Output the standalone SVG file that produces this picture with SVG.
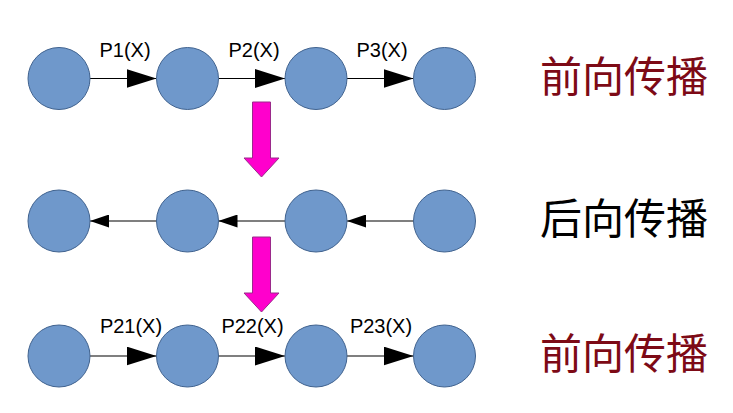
<svg xmlns="http://www.w3.org/2000/svg" width="733" height="413" viewBox="0 0 733 413">
<style>
.n{fill:#6f98cb;stroke:#41638f;stroke-width:1}
.e{stroke:#000;stroke-width:1.2;fill:none}
.lbl{font-family:"Liberation Sans",Arial,sans-serif;font-size:20px;fill:#000;text-anchor:middle}
.cjk{font-family:"Noto Sans CJK SC","Noto Sans",sans-serif;font-size:42px}
.big{fill:#ff00cc;stroke:#9a2a8a;stroke-width:1}
</style>
<defs>
<marker id="ah" markerWidth="30" markerHeight="19" refX="30" refY="9.5" orient="auto" markerUnits="userSpaceOnUse"><path d="M0,0 L30,9.5 L0,19 Z" fill="#000"/></marker>
<marker id="as" markerWidth="19" markerHeight="13" refX="19" refY="6.5" orient="auto" markerUnits="userSpaceOnUse"><path d="M0,0 L19,6.5 L0,13 Z" fill="#000"/></marker>
</defs>
<rect width="733" height="413" fill="#fff"/>
<g id="connectors">
<line class="e" x1="90" y1="78.5" x2="156.5" y2="78.5" marker-end="url(#ah)"/>
<line class="e" x1="218.5" y1="78.5" x2="285" y2="78.5" marker-end="url(#ah)"/>
<line class="e" x1="347" y1="78.5" x2="413.5" y2="78.5" marker-end="url(#ah)"/>
<line class="e" x1="156.5" y1="221" x2="90" y2="221" marker-end="url(#as)"/>
<line class="e" x1="285" y1="221" x2="218.5" y2="221" marker-end="url(#as)"/>
<line class="e" x1="413.5" y1="221" x2="347" y2="221" marker-end="url(#as)"/>
<line class="e" x1="90" y1="356" x2="156.5" y2="356" marker-end="url(#ah)"/>
<line class="e" x1="218.5" y1="356" x2="285" y2="356" marker-end="url(#ah)"/>
<line class="e" x1="347" y1="356" x2="413.5" y2="356" marker-end="url(#ah)"/>
<path class="big" d="M252.5,102 H270.5 V158 H279 L261.5,177 L244,158 H252.5 Z"/>
<path class="big" d="M252.5,237 H270.5 V293 H279 L261.5,312 L244,293 H252.5 Z"/>
</g>
<g id="labels">
<text class="lbl" x="125" y="57">P1(X)</text>
<text class="lbl" x="254" y="57">P2(X)</text>
<text class="lbl" x="382" y="57">P3(X)</text>
<text class="lbl" x="131" y="333">P21(X)</text>
<text class="lbl" x="252.5" y="333">P22(X)</text>
<text class="lbl" x="381" y="333">P23(X)</text>
</g>
<g id="row1">
<g id="n11"><circle class="n" cx="59" cy="78.5" r="31"/></g>
<g id="n12"><circle class="n" cx="187.5" cy="78.5" r="31"/></g>
<g id="n13"><circle class="n" cx="316" cy="78.5" r="31"/></g>
<g id="n14"><circle class="n" cx="444.5" cy="78.5" r="31"/></g>
</g>
<g id="row2">
<g id="n21"><circle class="n" cx="59" cy="221" r="31"/></g>
<g id="n22"><circle class="n" cx="187.5" cy="221" r="31"/></g>
<g id="n23"><circle class="n" cx="316" cy="221" r="31"/></g>
<g id="n24"><circle class="n" cx="444.5" cy="221" r="31"/></g>
</g>
<g id="row3">
<g id="n31"><circle class="n" cx="59" cy="356" r="31"/></g>
<g id="n32"><circle class="n" cx="187.5" cy="356" r="31"/></g>
<g id="n33"><circle class="n" cx="316" cy="356" r="31"/></g>
<g id="n34"><circle class="n" cx="444.5" cy="356" r="31"/></g>
</g>
<g id="titles">
<text class="cjk" x="540" y="92" fill="#7d0a16">前向传播</text>
<text class="cjk" x="540" y="234" fill="#000">后向传播</text>
<text class="cjk" x="540" y="369" fill="#7d0a16">前向传播</text>
</g>
</svg>
